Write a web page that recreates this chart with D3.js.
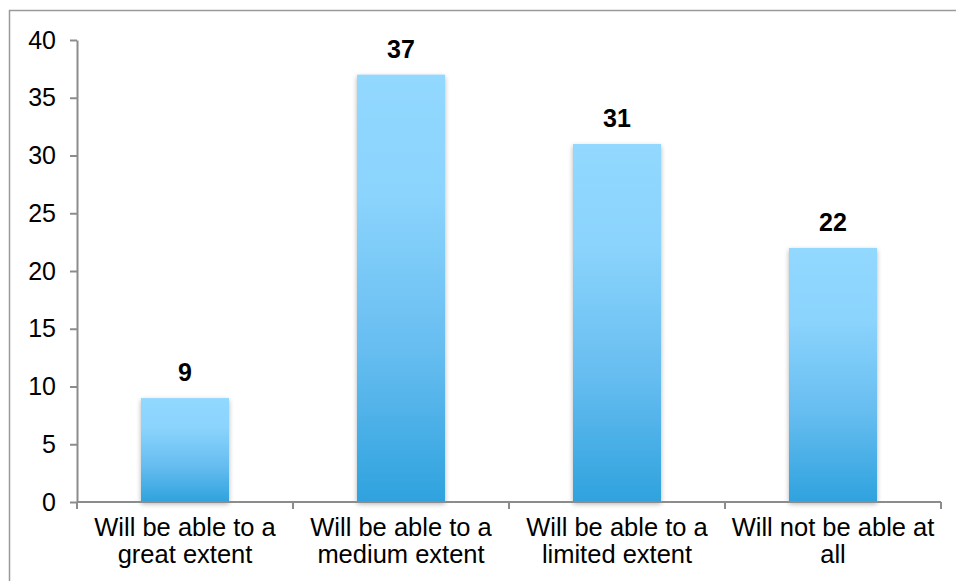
<!DOCTYPE html>
<html>
<head>
<meta charset="utf-8">
<script src="https://cdn.jsdelivr.net/npm/d3@7"></script>
<style>
  html, body { margin: 0; padding: 0; background: #ffffff; }
  svg { display: block; }
  text { font-family: "Liberation Sans", Arial, Helvetica, sans-serif; fill: #000; }
</style>
</head>
<body>
<svg id="chart" width="956" height="581"></svg>
<script>
// Survey responses: share of answers in each category
const categories = [
  ["Will be able to a", "great extent"],
  ["Will be able to a", "medium extent"],
  ["Will be able to a", "limited extent"],
  ["Will not be able at", "all"]
];
const values = [9, 37, 31, 22];
const yTicks = [0, 5, 10, 15, 20, 25, 30, 35, 40];

const svg = d3.select("#chart");
const W = 956, H = 581;
const plot = { left: 77, right: 941, top: 40, bottom: 502 };
const axisColor = "#8c8c8c";

// outer frame
svg.append("rect")
  .attr("x", 9.5).attr("y", 10.5)
  .attr("width", W + 20).attr("height", H + 20)
  .attr("fill", "none")
  .attr("stroke", "#9a9a9a")
  .attr("stroke-width", 1.5);

const defs = svg.append("defs");
const grad = defs.append("linearGradient")
  .attr("id", "barFill")
  .attr("x1", 0).attr("y1", 0).attr("x2", 0).attr("y2", 1);
grad.append("stop").attr("offset", "0%").attr("stop-color", "#92d8ff");
grad.append("stop").attr("offset", "28%").attr("stop-color", "#8bd4fd");
grad.append("stop").attr("offset", "65%").attr("stop-color", "#66bdf0");
grad.append("stop").attr("offset", "100%").attr("stop-color", "#2fa2de");

const shadow = defs.append("filter")
  .attr("id", "barShadow")
  .attr("x", "-15%").attr("y", "-10%")
  .attr("width", "130%").attr("height", "125%");
shadow.append("feGaussianBlur").attr("in", "SourceAlpha").attr("stdDeviation", 2.5).attr("result", "b");
shadow.append("feOffset").attr("in", "b").attr("dx", 0).attr("dy", 2).attr("result", "o");
shadow.append("feComponentTransfer").attr("in", "o").attr("result", "s")
  .append("feFuncA").attr("type", "linear").attr("slope", 0.3);
const merge = shadow.append("feMerge");
merge.append("feMergeNode").attr("in", "s");
merge.append("feMergeNode").attr("in", "SourceGraphic");

const keys = categories.map((d, i) => i);
const x = d3.scaleBand()
  .domain(keys)
  .range([plot.left, plot.right])
  .paddingInner(0.5926)
  .paddingOuter(0.2963);

const y = d3.scaleLinear()
  .domain([0, 40])
  .range([plot.bottom, plot.top]);

// bars
svg.append("g")
  .selectAll("rect")
  .data(values)
  .join("rect")
  .attr("x", (d, i) => x(i))
  .attr("y", d => y(d))
  .attr("width", x.bandwidth())
  .attr("height", d => y(0) - y(d))
  .attr("fill", "url(#barFill)")
  .attr("filter", "url(#barShadow)");

// value labels
svg.append("g")
  .selectAll("text")
  .data(values)
  .join("text")
  .attr("x", (d, i) => x(i) + x.bandwidth() / 2)
  .attr("y", d => y(d) - 17)
  .attr("text-anchor", "middle")
  .style("font-size", "25px")
  .style("font-weight", "bold")
  .text(d => d);

// y axis
const yAxis = svg.append("g")
  .attr("transform", `translate(${plot.left},0)`)
  .call(d3.axisLeft(y).tickValues(yTicks).tickSize(7).tickSizeOuter(0).tickPadding(14));
yAxis.select(".domain").attr("stroke", axisColor).attr("stroke-width", 2);
yAxis.selectAll(".tick line").attr("stroke", axisColor).attr("stroke-width", 2);
yAxis.selectAll(".tick text")
  .style("font-size", "25px")
  .attr("font-family", null)
  .attr("fill", "#000");

// x axis: ticks sit at band boundaries
const step = x.step();
const boundaries = d3.range(keys.length + 1).map(i => plot.left + i * step);
const xAxis = svg.append("g");
xAxis.append("line")
  .attr("x1", plot.left).attr("x2", plot.right)
  .attr("y1", plot.bottom).attr("y2", plot.bottom)
  .attr("stroke", axisColor).attr("stroke-width", 2);
xAxis.selectAll("line.tick")
  .data(boundaries)
  .join("line")
  .attr("class", "tick")
  .attr("x1", d => d).attr("x2", d => d)
  .attr("y1", plot.bottom).attr("y2", plot.bottom + 7)
  .attr("stroke", axisColor).attr("stroke-width", 2);

// category labels (two lines)
const catText = svg.append("g")
  .selectAll("text")
  .data(categories)
  .join("text")
  .attr("text-anchor", "middle")
  .style("font-size", "25.5px")
  .attr("transform", (d, i) => `translate(${x(i) + x.bandwidth() / 2},0)`);
catText.selectAll("tspan")
  .data(d => d)
  .join("tspan")
  .attr("x", 0)
  .attr("y", (d, j) => 536 + j * 26.5)
  .text(d => d);
</script>
</body>
</html>
